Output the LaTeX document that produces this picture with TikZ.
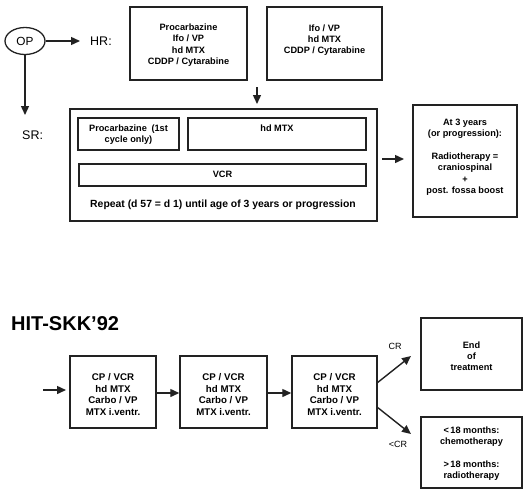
\documentclass[tikz,border=0pt]{standalone}
\usepackage{fontspec}
\setmainfont{Liberation Sans}
\usetikzlibrary{arrows.meta,shapes.geometric}
\definecolor{ink}{HTML}{222222}
\begin{document}
\begin{tikzpicture}[x=1pt,y=-1pt,
  box/.style={draw=ink,line width=1.5pt,rectangle,inner sep=0pt},
  txt/.style={font=\fontsize{9.2}{11.3}\selectfont\bfseries,text=black,align=center,inner sep=0pt},
  lbl/.style={font=\fontsize{12.5}{14}\selectfont,text=black,inner sep=0pt},
  small/.style={font=\fontsize{9}{11}\selectfont,text=black,inner sep=0pt},
  arr/.style={draw=ink,line width=1.4pt,-{Triangle[length=9pt,width=8pt]}}]
\useasboundingbox (0,0) rectangle (530,496);
% top part
\node[draw=ink,line width=1.3pt,ellipse,minimum width=40pt,minimum height=27pt,inner sep=0pt] (op) at (25,41) {};
\node[lbl,font=\fontsize{11.8}{13}\selectfont] (optext) at (25,41) {OP};
\coordinate (hrend) at (80,41);
\draw[arr] (op.east) -- (hrend);
\node[lbl,anchor=west] (hr) at (90,41.5) {HR:};
\coordinate (srend) at (25,115);
\draw[arr] (op.south) -- (srend);
\node[lbl,anchor=west] (sr) at (22,135) {SR:};

\node[box,minimum width=117pt,minimum height=73pt] (b1) at (188.5,43.5) {};
\node[txt] (b1t) at (188.5,45) {Procarbazine\\Ifo / VP\\hd MTX\\CDDP / Cytarabine};
\node[box,minimum width=115pt,minimum height=73pt] (b2) at (324.5,43.5) {};
\node[txt] (b2t) at (324.5,40) {Ifo / VP\\hd MTX\\CDDP / Cytarabine};

\node[box,minimum width=307pt,minimum height=112pt] (big) at (223.5,165) {};
\coordinate (dtop) at (257,87);
\coordinate (dbot) at (257,104);
\draw[arr] (dtop) -- (dbot);
\node[box,minimum width=101pt,minimum height=32pt] (pc) at (128.5,134) {};
\node[txt] (pct) at (128.5,134.5) {Procarbazine\enspace(1st\\cycle only)};
\node[box,minimum width=178pt,minimum height=32pt] (hd) at (277,134) {};
\node[txt] (hdt) at (277,128) {hd MTX};
\node[box,minimum width=287pt,minimum height=22pt] (vcr) at (222.5,175) {};
\node[txt] (vcrt) at (222.5,174.5) {VCR};
\node[txt,font=\fontsize{10.4}{12}\selectfont\bfseries] (rep) at (223,205) {Repeat (d 57 = d 1) until age of 3 years or progression};

\node[box,minimum width=104pt,minimum height=112pt] (rt) at (465,161) {};
\node[txt,anchor=north] (rtt) at (465,119) {At 3 years\\(or progression):\\[11.3pt]Radiotherapy =\\craniospinal\\+\\post. fossa boost};
\coordinate (ra) at (382,159);
\coordinate (rb) at (404,159);
\draw[arr] (ra) -- (rb);

% bottom part
\node[font=\fontsize{20}{22}\selectfont\bfseries,text=black,anchor=west,inner sep=0pt] (title) at (11,324) {HIT-SKK’92};
\coordinate (ina) at (43,390);
\coordinate (inb) at (66,390);
\draw[arr] (ina) -- (inb);
\node[box,minimum width=86pt,minimum height=72pt] (ca) at (113,392) {};
\node[box,minimum width=87pt,minimum height=72pt] (cb) at (223.5,392) {};
\node[box,minimum width=85pt,minimum height=72pt] (cc) at (334.5,392) {};
\foreach \n/\x in {ca/113,cb/223.5,cc/334.5}
  \node[txt,font=\fontsize{9.7}{11.6}\selectfont\bfseries] (\n t) at (\x,394.5) {CP / VCR\\hd MTX\\Carbo / VP\\MTX i.ventr.};
\draw[arr] (ca.east |- 0,393) -- (cb.west |- 0,393);
\draw[arr] (cb.east |- 0,393) -- (cc.west |- 0,393);

\node[box,minimum width=101pt,minimum height=72pt] (end) at (471.5,354) {};
\node[txt,font=\fontsize{9.2}{10.8}\selectfont\bfseries] (endt) at (471.5,356) {End\\of\\treatment};
\node[box,minimum width=101pt,minimum height=71pt] (oth) at (471.5,452.5) {};
\node[txt,font=\fontsize{9.2}{11.5}\selectfont\bfseries] (otht) at (471.5,453.5) {<\,18 months:\\chemotherapy\\[11pt]>\,18 months:\\radiotherapy};

\coordinate (cra) at (377,383);
\coordinate (crb) at (411,356);
\draw[arr] (cra) -- (crb);
\coordinate (nca) at (377,407);
\coordinate (ncb) at (411,434);
\draw[arr] (nca) -- (ncb);
\node[small] (crl) at (395,346) {CR};
\node[small] (ncrl) at (398,444) {<CR};
\end{tikzpicture}
\end{document}
